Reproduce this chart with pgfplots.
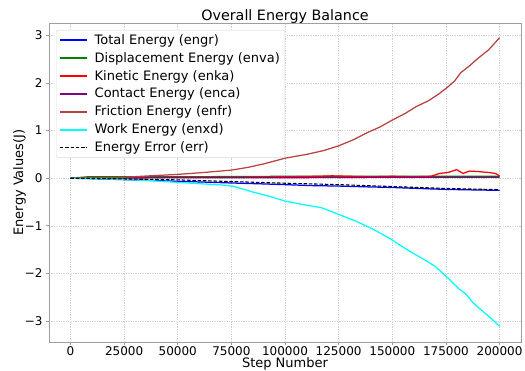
\documentclass[border=0pt]{standalone}
\usepackage{pgfplots}
\pgfplotsset{compat=1.18}
\usepackage{fontspec}
\setmainfont{DejaVu Sans}
\definecolor{mblue}{rgb}{0,0,1}
\definecolor{mgreen}{rgb}{0,0.5,0}
\definecolor{mred}{rgb}{1,0,0}
\definecolor{mpurple}{rgb}{0.5,0,0.5}
\definecolor{mbrown}{rgb}{0.72,0.25,0.25}
\definecolor{mcyan}{rgb}{0,1,1}
\definecolor{gridgray}{rgb}{0.82,0.82,0.82}
\definecolor{framegray}{rgb}{0.62,0.62,0.62}
\definecolor{legframe}{rgb}{0.85,0.85,0.85}
\begin{document}
\begin{tikzpicture}
\useasboundingbox (0,0) rectangle (525pt,371pt);
\begin{axis}[
  at={(49pt,29pt)}, anchor=south west,
  scale only axis, width=472pt, height=319pt,
  xmin=-10000, xmax=210000, ymin=-3.44, ymax=3.26,
  xtick={0,25000,50000,75000,100000,125000,150000,175000,200000},
  xticklabels={0,25000,50000,75000,100000,125000,150000,175000,200000},
  ytick={-3,-2,-1,0,1,2,3},
  yticklabels={−3,−2,−1,0,1,2,3},
  scaled x ticks=false,
  grid=major,
  major grid style={color=gridgray, dash pattern=on 1.2pt off 1.2pt, line width=0.6pt},
  axis line style={color=framegray, line width=0.9pt},
  tick style={color=framegray, line width=0.7pt},
  tick align=outside, tick pos=left,
  major tick length=3pt,
  ticklabel style={font=\fontsize{12}{14}\selectfont},
  xticklabel style={yshift=1.5pt},
  xlabel={Step Number}, ylabel={Energy Values(J)},
  label style={font=\fontsize{13}{15}\selectfont},
  xlabel style={yshift=5pt},
  ylabel style={yshift=-8pt},
  title={Overall Energy Balance},
  title style={font=\fontsize{14.3}{16}\selectfont, yshift=-10pt},
  legend cell align=left,
  legend style={font=\fontsize{13}{15.5}\selectfont, draw=legframe, rounded corners=2pt, fill=white, row sep=2.6pt, at={(7pt,312pt)}, anchor=north west, inner xsep=3pt, inner ysep=2pt},
  legend image code/.code={\draw[#1, line width=1.5pt] (0pt,0pt) -- (27pt,0pt);},
  every axis plot/.append style={line width=1.25pt},
]
\addplot[color=mblue] coordinates {(0,0) (10000,-0.01) (25000,-0.03) (40000,-0.05) (50000,-0.065) (65000,-0.085) (75000,-0.10) (90000,-0.12) (100000,-0.135) (112000,-0.155) (125000,-0.165) (137000,-0.18) (150000,-0.195) (162000,-0.215) (175000,-0.235) (187000,-0.245) (200000,-0.255)};
\addlegendentry{\hspace{5pt}Total Energy (engr)}
\addplot[color=mgreen] coordinates {(0,0) (8000,0.03) (50000,0.03) (100000,0.04) (150000,0.04) (200000,0.04)};
\addlegendentry{\hspace{5pt}Displacement Energy (enva)}
\addplot[color=mred] coordinates {(0,0) (25000,0.01) (50000,0.02) (75000,0.02) (100000,0.03) (115000,0.04) (122000,0.05) (130000,0.04) (140000,0.03) (150000,0.04) (160000,0.03) (168000,0.04) (172000,0.10) (176000,0.12) (180000,0.18) (183000,0.10) (186000,0.15) (190000,0.14) (195000,0.12) (198000,0.10) (200000,0.05)};
\addlegendentry{\hspace{5pt}Kinetic Energy (enka)}
\addplot[color=mpurple] coordinates {(0,0) (50000,0.01) (100000,0.01) (150000,0.02) (200000,0.02)};
\addlegendentry{\hspace{5pt}Contact Energy (enca)}
\addplot[color=mbrown] coordinates {(0,0) (12000,0.01) (25000,0.02) (37000,0.05) (50000,0.08) (62000,0.12) (75000,0.17) (83000,0.23) (90000,0.30) (95000,0.36) (100000,0.42) (110000,0.50) (118000,0.58) (125000,0.68) (132000,0.81) (138000,0.95) (144000,1.07) (150000,1.22) (156000,1.36) (161000,1.50) (167000,1.63) (172000,1.78) (176000,1.92) (179000,2.04) (182000,2.22) (186000,2.36) (190000,2.52) (195000,2.70) (200000,2.95)};
\addlegendentry{\hspace{5pt}Friction Energy (enfr)}
\addplot[color=mcyan] coordinates {(0,0) (12000,-0.01) (25000,-0.03) (37000,-0.05) (51000,-0.09) (62000,-0.12) (70000,-0.14) (76000,-0.17) (85000,-0.29) (92000,-0.37) (100000,-0.48) (108000,-0.55) (117000,-0.62) (125000,-0.76) (133000,-0.90) (141000,-1.07) (149000,-1.27) (156500,-1.49) (163000,-1.66) (170000,-1.85) (176500,-2.12) (181000,-2.32) (184500,-2.44) (187500,-2.61) (191000,-2.75) (195500,-2.92) (200000,-3.11)};
\addlegendentry{\hspace{5pt}Work Energy (enxd)}
\addplot[color=black, dash pattern=on 3.5pt off 1.8pt, line width=1.1pt] coordinates {(0,0) (10000,-0.005) (25000,-0.015) (50000,-0.035) (75000,-0.07) (100000,-0.105) (125000,-0.135) (150000,-0.175) (175000,-0.215) (200000,-0.24)};
\addlegendentry{\hspace{5pt}Energy Error (err)}
\node[anchor=south west, font=\fontsize{5}{6}\selectfont, inner sep=1pt] at (rel axis cs:0,1) {1e7};
\end{axis}
\end{tikzpicture}
\end{document}
